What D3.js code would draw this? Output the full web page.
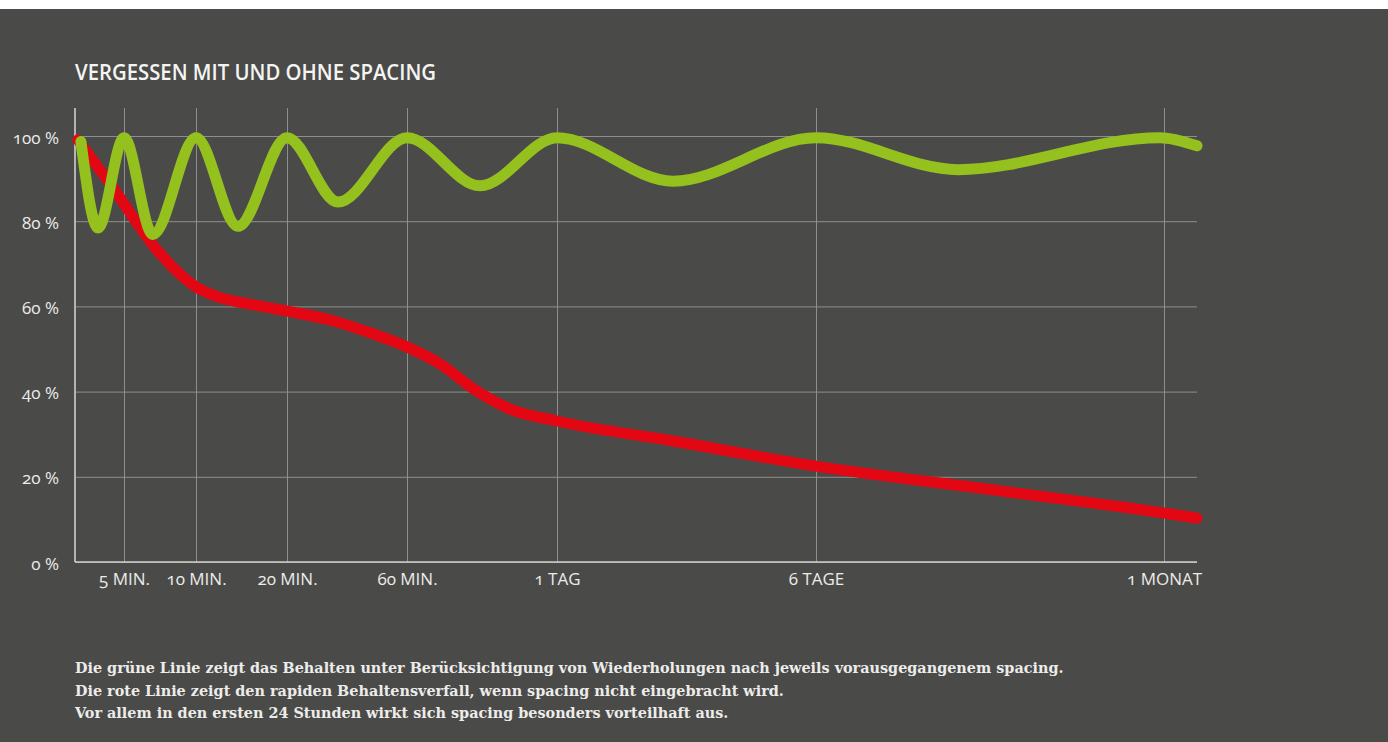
<!DOCTYPE html>
<html lang="de">
<head>
<meta charset="utf-8">
<title>Vergessen mit und ohne Spacing</title>
<script src="https://cdn.jsdelivr.net/npm/d3@7"></script>
<style>
  html, body { margin: 0; padding: 0; background: #ffffff; }
  svg { display: block; }
  .sans { font-family: "Open Sans", "Noto Sans", sans-serif; font-feature-settings: "onum" 1; }
  .note { font-family: "DejaVu Serif", "Liberation Serif", serif; font-weight: bold; }
</style>
</head>
<body>
<svg id="chart" width="1388" height="742"></svg>
<script>
// ---- data -------------------------------------------------------------
// Time axis ticks (in minutes) and their labels
const tickMinutes = [5, 10, 20, 60, 1440, 8640, 43200];
const tickLabels  = ["5 MIN.", "10 MIN.", "20 MIN.", "60 MIN.", "1 TAG", "6 TAGE", "1 MONAT"];
const yTicks      = [0, 20, 40, 60, 80, 100];

// Retention with spaced repetition (green): time in minutes, retention in %
const spacedMinutes   = [0.6, 2.35, 5, 7, 10, 14.6, 20, 37, 60, 732, 1440, 4665, 8640, 22740, 42800, 46500];
const spacedRetention = [98.7, 78.4, 99.6, 76.9, 99.6, 78.8, 99.6, 84.5, 99.6, 88.3, 99.6, 89.4, 99.6, 92.1, 99.6, 97.7];

// Retention without repetition (red)
const decayMinutes   = [0.3, 3.8, 7.3, 10, 12.2, 17, 20, 34.3, 47.7, 60, 364, 686, 1008, 1440, 4665, 8640, 26900, 43200, 46500];
const decayRetention = [99.1, 88.1, 73.2, 64.6, 62.4, 60.1, 58.9, 56.8, 53.8, 50.5, 46.5, 40.4, 35.9, 33.1, 28.4, 22.5, 16.7, 11.5, 10.3];

const title = "VERGESSEN MIT UND OHNE SPACING";
const notes = [
  "Die grüne Linie zeigt das Behalten unter Berücksichtigung von Wiederholungen nach jeweils vorausgegangenem spacing.",
  "Die rote Linie zeigt den rapiden Behaltensverfall, wenn spacing nicht eingebracht wird.",
  "Vor allem in den ersten 24 Stunden wirkt sich spacing besonders vorteilhaft aus."
];

// ---- layout -----------------------------------------------------------
const W = 1388, H = 742;
const plot = { left: 75, right: 1197, top: 108, bottom: 562, yMaxPx: 136 };
// the time axis is stretched piecewise: each tick interval gets its own width
const xStops = [75, 124, 196, 287, 407, 557, 816, 1164, 1197];
const bg = "#4a4a48";

const svg = d3.select("#chart");

svg.append("rect").attr("width", W).attr("height", H).attr("fill", "#ffffff");
svg.append("rect").attr("y", 9).attr("width", W).attr("height", H - 9).attr("fill", bg);

const x = d3.scaleLinear()
  .domain([0, ...tickMinutes, 46500])
  .range(xStops);

const y = d3.scaleLinear()
  .domain([0, 100])
  .range([plot.bottom, plot.yMaxPx]);

// ---- grid + axes ------------------------------------------------------
const gridColor = "#8e8e8c";
const axisColor = "#cfcfcd";
const labelColor = "#ececea";

const yAxis = svg.append("g")
  .attr("class", "sans")
  .attr("transform", `translate(${plot.left},0)`)
  .call(d3.axisLeft(y)
    .tickValues(yTicks)
    .tickSize(-(plot.right - plot.left))
    .tickPadding(16)
    .tickFormat(d => d + " %"));
yAxis.select(".domain").remove();
yAxis.selectAll(".tick line").attr("stroke", gridColor).attr("stroke-width", 1);
yAxis.selectAll(".tick text")
  .attr("fill", labelColor)
  .attr("font-size", 17)
  .attr("dy", "0.42em");

const xAxis = svg.append("g")
  .attr("class", "sans")
  .attr("transform", `translate(0,${plot.bottom})`)
  .call(d3.axisBottom(x)
    .tickValues(tickMinutes)
    .tickSize(-(plot.bottom - plot.top))
    .tickPadding(10)
    .tickFormat((d, i) => tickLabels[i]));
xAxis.select(".domain").remove();
xAxis.selectAll(".tick line").attr("stroke", gridColor).attr("stroke-width", 1);
xAxis.selectAll(".tick text")
  .attr("fill", labelColor)
  .attr("font-size", 17)
  .attr("dy", "0.78em");

// baseline and left axis line
svg.append("line")
  .attr("x1", plot.left).attr("x2", plot.right)
  .attr("y1", plot.bottom).attr("y2", plot.bottom)
  .attr("stroke", axisColor).attr("stroke-width", 1.6);
svg.append("line")
  .attr("x1", plot.left).attr("x2", plot.left)
  .attr("y1", plot.top).attr("y2", plot.bottom)
  .attr("stroke", axisColor).attr("stroke-width", 1.6);

// ---- curves -----------------------------------------------------------
const line = d3.line()
  .x(d => x(d[0]))
  .y(d => y(d[1]))
  .curve(d3.curveMonotoneX);

const decay  = d3.zip(decayMinutes, decayRetention);
const spaced = d3.zip(spacedMinutes, spacedRetention);

svg.append("path")
  .datum(decay)
  .attr("d", line)
  .attr("fill", "none")
  .attr("stroke", "#e30613")
  .attr("stroke-width", 11)
  .attr("stroke-linecap", "round")
  .attr("stroke-linejoin", "round");

svg.append("path")
  .datum(spaced)
  .attr("d", line)
  .attr("fill", "none")
  .attr("stroke", "#95c11f")
  .attr("stroke-width", 11)
  .attr("stroke-linecap", "round")
  .attr("stroke-linejoin", "round");

// ---- title + notes ----------------------------------------------------
svg.append("text")
  .attr("class", "sans")
  .attr("x", 75).attr("y", 80)
  .attr("font-size", 21)
  .attr("font-weight", 600)
  .attr("fill", "#f4f4f2")
  .attr("textLength", 361)
  .attr("lengthAdjust", "spacingAndGlyphs")
  .text(title);

svg.append("g")
  .selectAll("text")
  .data(notes)
  .join("text")
  .attr("class", "note")
  .attr("x", 75)
  .attr("y", (d, i) => 673 + i * 22.5)
  .attr("font-size", 14.4)
  .attr("fill", "#ececea")
  .text(d => d);
</script>
</body>
</html>
